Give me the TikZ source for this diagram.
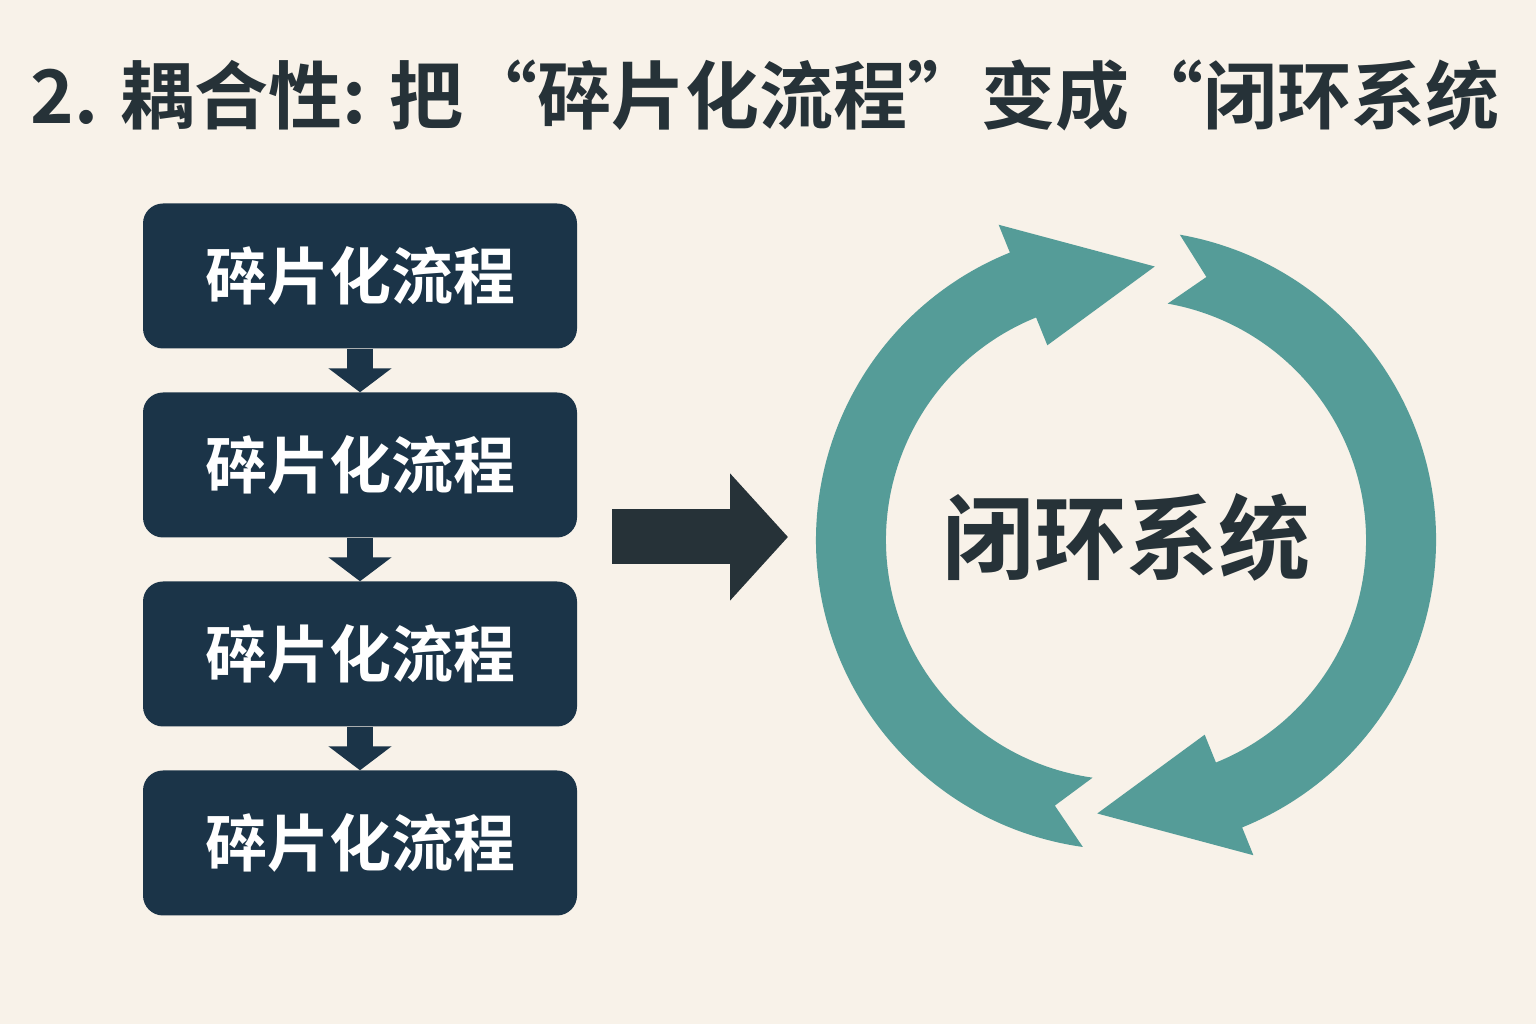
\documentclass[tikz,border=0pt]{standalone}
\usepackage{fontspec}
\newfontfamily\cjk{Noto Sans CJK SC Bold}
\usetikzlibrary{arrows.meta}
\definecolor{bg}{HTML}{F8F2E9}
\definecolor{navy}{HTML}{1B3448}
\definecolor{dark}{HTML}{263238}
\definecolor{teal}{HTML}{559C98}
\tikzset{
  stepbox/.style={fill=navy,rounded corners=20pt,minimum width=434pt,minimum height=145pt,inner sep=0pt,text=white,font=\cjk\fontsize{62}{70}\selectfont},
  downarr/.style={draw=navy,line width=26pt,-{Triangle[width=62pt,length=24pt]}},
}
\begin{document}
\begin{tikzpicture}[x=1pt,y=1pt]
\fill[bg] (0,0) rectangle (1536,1024);
\useasboundingbox (0,0) rectangle (1536,1024);
\node[text=dark,font=\cjk\fontsize{74}{80}\selectfont,anchor=center] (title) at (765,929) {2. 耦合性: 把“碎片化流程”变成“闭环系统};
\node[stepbox] (b1) at (360,748) {碎片化流程};
\node[stepbox] (b2) at (360,559) {碎片化流程};
\node[stepbox] (b3) at (360,370) {碎片化流程};
\node[stepbox] (b4) at (360,181) {碎片化流程};
\draw[downarr] (b1.south) -- (b2.north);
\draw[downarr] (b2.south) -- (b3.north);
\draw[downarr] (b3.south) -- (b4.north);
\coordinate (bigs) at (612,487);
\node[inner sep=0pt] (center) at (1126,487) {};
\draw[draw=dark,line width=55pt,-{Triangle[width=124pt,length=58pt]}] (bigs) -- (788,487);
\node[text=dark,font=\cjk\fontsize{92}{100}\selectfont] (lbl) at (1126,487) {闭环系统};
\begin{scope}[shift={(1126,484)}]
\fill[teal] (262:310) arc[start angle=262,end angle=112,radius=310] -- (112:340) -- (84:275) -- (112:210) -- (112:240) arc[start angle=112,end angle=262,radius=240] -- (255:275) -- cycle;
\fill[teal] (80:310) arc[start angle=80,end angle=-68,radius=310] -- (-68:340) -- (-96:275) -- (-68:210) -- (-68:240) arc[start angle=-68,end angle=80,radius=240] -- (73:275) -- cycle;
\end{scope}
\end{tikzpicture}
\end{document}
